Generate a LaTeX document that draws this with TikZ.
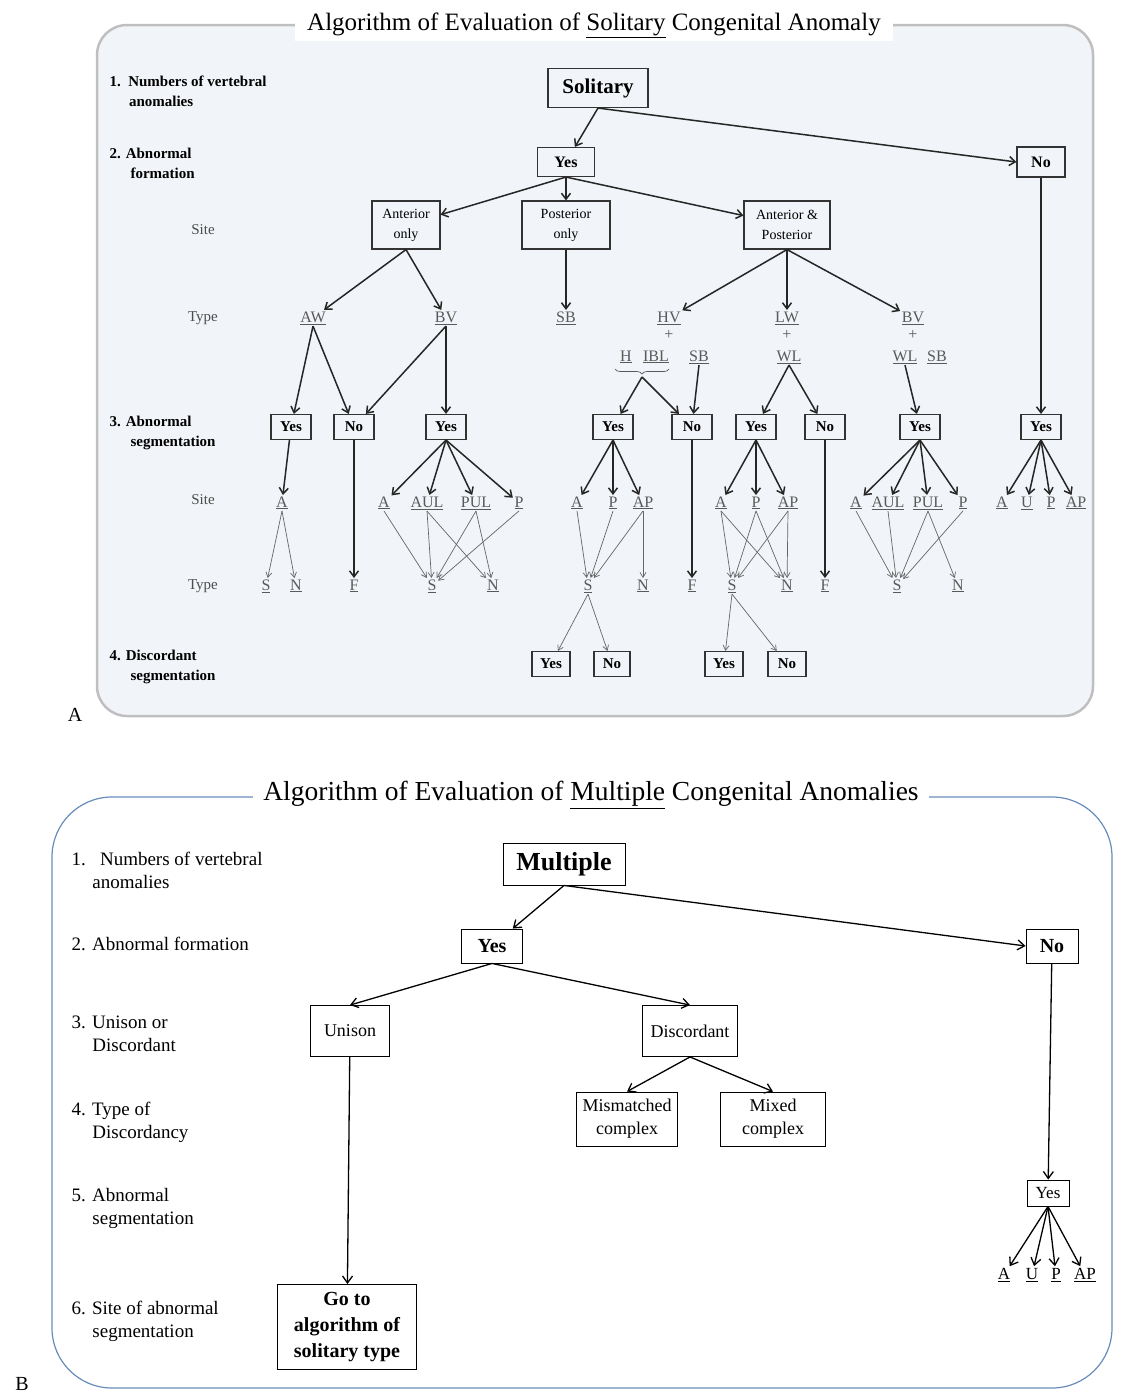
\documentclass[tikz,border=0pt]{standalone}
\usepackage{fontspec}
\setmainfont{Liberation Serif}
\usetikzlibrary{arrows.meta,decorations.pathreplacing}
\definecolor{panelbg}{RGB}{241,244,248}
\definecolor{panelrim}{RGB}{104,140,186}
\newcommand\fsz[2]{\fontsize{#1}{#2}\selectfont}

\begin{document}
\begin{tikzpicture}[x=1pt,y=-1pt,
  box/.style={draw=black!80,line width=1.1pt,inner sep=1pt,align=center},
  sbox/.style={box,minimum width=40,minimum height=25,font=\bfseries\fsz{15}{17}},
  tag/.style={inner sep=1.5pt,text=black!65,font=\fsz{16}{18}},
  side/.style={anchor=west,align=left,font=\bfseries\fsz{15}{20}},
  rowname/.style={text=black!70,font=\fsz{15}{17}},
  thk/.style={line width=1.5pt,black!85,-{Straight Barb[length=6pt,width=9pt]}},
  thn/.style={line width=0.7pt,black!60,-{Straight Barb[length=5pt,width=6pt]}},
  boxb/.style={draw,line width=0.9pt,inner sep=1pt,align=center},
  tagb/.style={inner sep=2pt,font=\fsz{17}{19}},
  sideb/.style={anchor=west,align=left,font=\fsz{19}{23}},
  arb/.style={line width=1.3pt,-{Straight Barb[length=7pt,width=10pt]}}]

\useasboundingbox (0,0) rectangle (1138,1398);

\draw[draw=black!25,line width=2.5pt,fill=panelbg,rounded corners=30] (97,25) rectangle (1093,716);
\node[fill=white,inner xsep=12pt,font=\fsz{25}{27}] (titA) at (594,25) {Algorithm of Evaluation of \underline{Solitary} Congenital Anomaly};
\node[font=\fsz{20}{22}] (labA) at (75,715) {A};

\node[side] (n1a) at (106,91) {1.\ \ Numbers of vertebral\\\hspace*{1.3em}anomalies};
\node[side] (n2a) at (106,163) {2. Abnormal\\\hspace*{1.4em}formation};
\node[rowname] (sit1) at (203,230) {Site};
\node[rowname] (typ1) at (203,318) {Type};
\node[side] (n3a) at (106,433) {3. Abnormal\\\hspace*{1.4em}segmentation};
\node[rowname] (sit2) at (203,500) {Site};
\node[rowname] (typ2) at (203,586) {Type};
\node[side] (n4a) at (106,667) {4. Discordant\\\hspace*{1.4em}segmentation};

\node[box,minimum width=100,minimum height=39,font=\bfseries\fsz{21}{24}] (sol) at (598,88) {Solitary};
\node[box,minimum width=57,minimum height=29,font=\bfseries\fsz{16}{18}] (ya) at (566,162) {Yes};
\node[box,minimum width=48,minimum height=30,font=\bfseries\fsz{16}{18}] (na) at (1041,162) {No};
\node[box,minimum width=68,minimum height=48,font=\fsz{14}{20}] (ant) at (406,225) {Anterior\\only};
\node[box,minimum width=88,minimum height=48,font=\fsz{14}{20}] (post) at (566,225) {Posterior\\only};
\node[box,minimum width=86,minimum height=48,font=\fsz{14}{20}] (ap) at (787,225) {Anterior \&\\Posterior};

\node[tag] (taw) at (313,318) {\underline{AW}};
\node[tag] (tbv) at (446,318) {\underline{BV}};
\node[tag] (tsb) at (566,318) {\underline{SB}};
\node[tag] (thv) at (669,318) {\underline{HV}};
\node[tag] (tlw) at (787,318) {\underline{LW}};
\node[tag] (tbv2) at (913,318) {\underline{BV}};
\node[tag] (pl1) at (669,335) {+};
\node[tag] (pl2) at (787,335) {+};
\node[tag] (pl3) at (913,335) {+};
\node[tag] (th) at (626,357) {\underline{H}};
\node[tag] (tibl) at (656,357) {\underline{IBL}};
\node[tag] (tsb2) at (699,357) {\underline{SB}};
\node[tag] (twl) at (789,357) {\underline{WL}};
\node[tag] (twl2) at (905,357) {\underline{WL}};
\node[tag] (tsb3) at (937,357) {\underline{SB}};
\draw[black!65,line width=0.7pt,decorate,decoration={brace,amplitude=5pt}] (669,369) -- (615,369);
\coordinate (br) at (642,377);

\node[sbox] (s1) at (291,427) {Yes};
\node[sbox] (s2) at (354,427) {No};
\node[sbox] (s3) at (446,427) {Yes};
\node[sbox] (s4) at (613,427) {Yes};
\node[sbox] (s5) at (692,427) {No};
\node[sbox] (s6) at (756,427) {Yes};
\node[sbox] (s7) at (825,427) {No};
\node[sbox] (s8) at (920,427) {Yes};
\node[sbox] (s9) at (1041,427) {Yes};

\node[tag] (a1) at (282,503) {\underline{A}};
\node[tag] (a2) at (384,503) {\underline{A}};
\node[tag] (a3) at (427,503) {\underline{AUL}};
\node[tag] (a4) at (476,503) {\underline{PUL}};
\node[tag] (a5) at (519,503) {\underline{P}};
\node[tag] (a6) at (577,503) {\underline{A}};
\node[tag] (a7) at (613,503) {\underline{P}};
\node[tag] (a8) at (643,503) {\underline{AP}};
\node[tag] (a9) at (721,503) {\underline{A}};
\node[tag] (a10) at (756,503) {\underline{P}};
\node[tag] (a11) at (788,503) {\underline{AP}};
\node[tag] (a12) at (856,503) {\underline{A}};
\node[tag] (a13) at (888,503) {\underline{AUL}};
\node[tag] (a14) at (928,503) {\underline{PUL}};
\node[tag] (a15) at (963,503) {\underline{P}};
\node[tag] (a16) at (1002,503) {\underline{A}};
\node[tag] (a17) at (1027,503) {\underline{U}};
\node[tag] (a18) at (1051,503) {\underline{P}};
\node[tag] (a19) at (1076,503) {\underline{AP}};

\node[tag] (b1) at (266,586) {\underline{S}};
\node[tag] (b2) at (296,586) {\underline{N}};
\node[tag] (b3) at (354,586) {\underline{F}};
\node[tag] (b4) at (432,586) {\underline{S}};
\node[tag] (b5) at (493,586) {\underline{N}};
\node[tag] (b6) at (588,586) {\underline{S}};
\node[tag] (b7) at (643,586) {\underline{N}};
\node[tag] (b8) at (692,586) {\underline{F}};
\node[tag] (b9) at (732,586) {\underline{S}};
\node[tag] (b10) at (787,586) {\underline{N}};
\node[tag] (b11) at (825,586) {\underline{F}};
\node[tag] (b12) at (897,586) {\underline{S}};
\node[tag] (b13) at (958,586) {\underline{N}};

\node[sbox,minimum width=38] (d1) at (551,664) {Yes};
\node[sbox,minimum width=36] (d2) at (612,664) {No};
\node[sbox,minimum width=38] (d3) at (724,664) {Yes};
\node[sbox,minimum width=38] (d4) at (787,664) {No};

\draw[thk] (sol.south) -- (ya);
\draw[thk] (sol.south) -- (na.west);
\draw[thk] (ya.south) -- (ant);
\draw[thk] (ya.south) -- (post);
\draw[thk] (ya.south) -- (ap);
\draw[thk] (na) -- (s9);
\draw[thk] (ant.south) -- (taw);
\draw[thk] (ant.south) -- (tbv);
\draw[thk] (post) -- (tsb);
\foreach \t in {thv,tlw,tbv2} \draw[thk] (ap.south) -- (\t);
\draw[thk] (taw.south) -- (s1);
\draw[thk] (taw.south) -- (s2);
\draw[thk] (tbv.south) -- (s2);
\draw[thk] (tbv.south) -- (s3);
\draw[thk] (br) -- (s4);
\draw[thk] (br) -- (s5);
\draw[thk] (tsb2.south) -- (s5);
\draw[thk] (twl.south) -- (s6);
\draw[thk] (twl.south) -- (s7);
\draw[thk] (twl2.south) -- (s8);
\draw[thk] (s1) -- (a1);
\draw[thk] (s2) -- (b3);
\draw[thk] (s5) -- (b8);
\draw[thk] (s7) -- (b11);
\foreach \t in {a2,a3,a4,a5} \draw[thk] (s3.south) -- (\t);
\foreach \t in {a6,a7,a8} \draw[thk] (s4.south) -- (\t);
\foreach \t in {a9,a10,a11} \draw[thk] (s6.south) -- (\t);
\foreach \t in {a12,a13,a14,a15} \draw[thk] (s8.south) -- (\t);
\foreach \t in {a16,a17,a18,a19} \draw[thk] (s9.south) -- (\t);

\foreach \f/\t in {a1/b1,a1/b2,a2/b4,a3/b4,a3/b5,a4/b4,a4/b5,a5/b4,
  a6/b6,a7/b6,a8/b6,a8/b7,a9/b9,a9/b10,a10/b9,a10/b10,a11/b9,a11/b10,
  a12/b12,a13/b12,a14/b12,a14/b13,a15/b12,b6/d1,b6/d2,b9/d3,b9/d4}
  \draw[thn] (\f.south) -- (\t);

\draw[panelrim,line width=1.2pt,rounded corners=60] (52,797) rectangle (1112,1388);
\node[fill=white,inner xsep=10pt,font=\fsz{27.5}{30}] (titB) at (591,795) {Algorithm of Evaluation of \underline{Multiple} Congenital Anomalies};
\node[font=\fsz{20}{22}] (labB) at (22,1384) {B};

\node[sideb] (n1b) at (68,870) {1.\ \ \ Numbers of vertebral\\\hspace*{1.1em}anomalies};
\node[sideb] (n2b) at (68,944) {2. Abnormal formation};
\node[sideb] (n3b) at (68,1034) {3. Unison or\\\hspace*{1.1em}Discordant};
\node[sideb] (n4b) at (68,1122) {4. Type of\\\hspace*{1.1em}Discordancy};
\node[sideb] (n5b) at (68,1208) {5. Abnormal\\\hspace*{1.1em}segmentation};
\node[sideb] (n6b) at (68,1321) {6. Site of abnormal\\\hspace*{1.1em}segmentation};

\node[boxb,minimum width=122,minimum height=42,font=\bfseries\fsz{26}{28}] (mul) at (564,864) {Multiple};
\node[boxb,minimum width=61,minimum height=34,font=\bfseries\fsz{20}{22}] (yb) at (492,946) {Yes};
\node[boxb,minimum width=52,minimum height=34,font=\bfseries\fsz{20}{22}] (nb) at (1052,946) {No};
\node[boxb,minimum width=79,minimum height=51,font=\fsz{18}{23}] (uni) at (350,1031) {Unison};
\node[boxb,minimum width=95,minimum height=51,font=\fsz{18}{23}] (dis) at (690,1031) {Discordant};
\node[boxb,minimum width=101,minimum height=54,font=\fsz{18}{23}] (mis) at (627,1119) {Mismatched\\complex};
\node[boxb,minimum width=105,minimum height=54,font=\fsz{18}{23}] (mix) at (773,1119) {Mixed\\complex};
\node[boxb,minimum width=42,minimum height=26,font=\fsz{17}{19}] (yb2) at (1048,1193) {Yes};
\node[boxb,minimum width=139,minimum height=85,font=\bfseries\fsz{20}{26}] (goto) at (347,1327) {Go to\\algorithm of\\solitary type};
\node[tagb] (ua) at (1004,1275) {\underline{A}};
\node[tagb] (uu) at (1032,1275) {\underline{U}};
\node[tagb] (up) at (1056,1275) {\underline{P}};
\node[tagb] (uap) at (1085,1275) {\underline{AP}};

\draw[arb] (mul.south) -- (yb);
\draw[arb] (mul.south) -- (nb.west);
\draw[arb] (yb.south) -- (uni.north);
\draw[arb] (yb.south) -- (dis.north);
\draw[arb] (uni) -- (goto);
\draw[arb] (dis.south) -- (mis.north);
\draw[arb] (dis.south) -- (mix.north);
\draw[arb] (nb) -- (yb2);
\foreach \t in {ua,uu,up,uap} \draw[arb] (yb2.south) -- (\t);
\end{tikzpicture}
\end{document}
